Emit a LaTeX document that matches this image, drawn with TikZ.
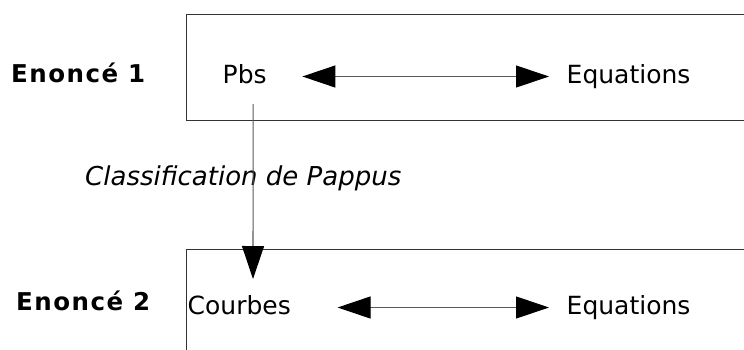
\documentclass[tikz,border=0pt]{standalone}
\usepackage{fontspec}
\setmainfont{DejaVu Sans}
\usetikzlibrary{arrows.meta}

\begin{document}
\begin{tikzpicture}[x=1pt, y=-1pt,
     box/.style = {draw=black!80, line width=1pt},% frames of the two statements
     txt/.style = {inner sep=0pt, anchor=base west,
                   text height=18pt, text depth=5pt,
                   font=\fontsize{25}{30}\selectfont},
     lbl/.style = {txt, font=\fontsize{24.5}{28}\selectfont\bfseries\addfontfeature{LetterSpace=6}},
     arr/.style = {draw=black!65, line width=1.1pt, -{Triangle[length=33pt, width=22pt, color=black]}},
     dbl/.style = {draw=black!65, line width=1.1pt,
                   {Triangle[length=33pt, width=22pt, color=black]}-{Triangle[length=33pt, width=22pt, color=black]}},
                        ]
\useasboundingbox (0,0) rectangle (744,349);
\clip (0,0) rectangle (744,349);
% frames, cut by the page border
\draw[box] (186,14) rectangle (760,120);
\draw[box] (186,249) rectangle (760,360);
% texts
\node[lbl] (en1) at (11,82)    {Enoncé 1};
\node[txt] (pbs) at (222.5,83) {Pbs};
\node[txt] (eq1) at (566.5,83) {Equations};
\node[txt, font=\fontsize{26}{30}\selectfont\itshape] (cls) at (85,185) {Classification de Pappus};
\node[lbl] (en2) at (16,310)   {Enoncé 2};
\node[txt] (crb) at (187.5,314) {Courbes};
\node[txt] (eq2) at (566.5,314) {Equations};
\coordinate (crbtop) at (253,279);
% arrows
\draw[dbl, shorten <=35.5pt, shorten >=17.5pt] (pbs.east) -- (eq1.west);
\draw[dbl, shorten <=46.5pt, shorten >=17.5pt] (crb.east) -- (eq2.west);
\draw[arr, shorten <=16pt] ([xshift=8.5pt]pbs.south) -- (crbtop);
\end{tikzpicture}
\end{document}
